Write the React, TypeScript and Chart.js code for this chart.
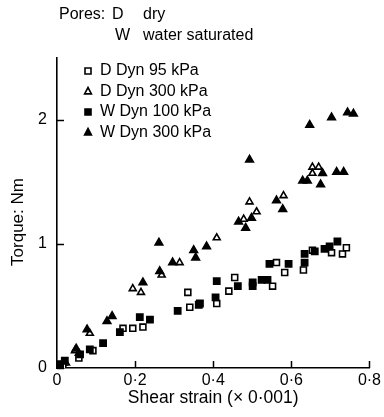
import React, { useEffect, useRef } from "react";
import { Chart, registerables } from "chart.js";

Chart.register(...registerables);

const xTickValues = [0, 0.2, 0.4, 0.6, 0.8];
const xTickLabels = ["0", "0·2", "0·4", "0·6", "0·8"];
const yTickValues = [0, 1, 2];
const yTickLabels = ["0", "1", "2"];

const seriesNames = ["D Dyn 95 kPa", "D Dyn 300 kPa", "W Dyn 100 kPa", "W Dyn 300 kPa"];

// D Dyn 95 kPa (hollow squares)
const dDyn95X = [0.015, 0.056, 0.092, 0.169, 0.194, 0.22, 0.34, 0.335, 0.409, 0.44, 0.455, 0.552, 0.562, 0.583, 0.631, 0.654, 0.703, 0.731, 0.741];
const dDyn95Y = [0.01, 0.08, 0.14, 0.32, 0.32, 0.33, 0.49, 0.61, 0.52, 0.62, 0.73, 0.66, 0.85, 0.77, 0.79, 0.95, 0.93, 0.92, 0.97];

// D Dyn 300 kPa (hollow triangles)
const dDyn300X = [0.023, 0.046, 0.056, 0.084, 0.194, 0.215, 0.268, 0.314, 0.409, 0.478, 0.493, 0.511, 0.58, 0.654, 0.67, 0.654];
const dDyn300Y = [0.04, 0.14, 0.12, 0.28, 0.64, 0.61, 0.75, 0.85, 1.05, 1.2, 1.34, 1.26, 1.39, 1.62, 1.62, 1.57];

// W Dyn 100 kPa (filled squares)
const wDyn100X = [0.008, 0.02, 0.059, 0.084, 0.118, 0.161, 0.212, 0.238, 0.309, 0.363, 0.409, 0.406, 0.366, 0.463, 0.501, 0.501, 0.524, 0.539, 0.544, 0.593, 0.634, 0.634, 0.66, 0.685, 0.718, 0.698];
const wDyn100Y = [0.03, 0.06, 0.11, 0.15, 0.2, 0.29, 0.41, 0.39, 0.46, 0.51, 0.7, 0.57, 0.52, 0.66, 0.69, 0.66, 0.71, 0.71, 0.84, 0.84, 0.92, 0.85, 0.94, 0.96, 1.02, 0.98];

// W Dyn 300 kPa (filled triangles)
const wDyn300X = [0.015, 0.049, 0.077, 0.128, 0.141, 0.22, 0.261, 0.263, 0.296, 0.35, 0.355, 0.383, 0.465, 0.483, 0.498, 0.493, 0.562, 0.578, 0.629, 0.641, 0.68, 0.675, 0.716, 0.734, 0.647, 0.703, 0.744, 0.759];
const wDyn300Y = [0.04, 0.156, 0.31, 0.377, 0.418, 0.69, 1.01, 0.78, 0.85, 0.95, 0.89, 0.98, 1.18, 1.13, 1.21, 1.68, 1.35, 1.28, 1.51, 1.51, 1.57, 1.48, 1.58, 1.58, 1.96, 2.02, 2.06, 2.05];

const xTitle = "Shear strain (× 0·001)";
const yTitle = "Torque: Nm";

const FONT = "'Liberation Sans', Arial, Helvetica, sans-serif";

const toPoints = (xs: number[], ys: number[]) => xs.map((x, i) => ({ x, y: ys[i] }));

function markerPath(ctx: CanvasRenderingContext2D, kind: string, x: number, y: number) {
  ctx.beginPath();
  if (kind === "sq") {
    ctx.rect(x - 3, y - 3, 6, 6);
  } else {
    ctx.moveTo(x, y - 4);
    ctx.lineTo(x + 3.4, y + 2.4);
    ctx.lineTo(x - 3.4, y + 2.4);
    ctx.closePath();
  }
}

const overlayPlugin = {
  id: "overlay",
  afterDraw(chart: any) {
    const ctx: CanvasRenderingContext2D = chart.ctx;
    const xs = chart.scales.x;
    const ys = chart.scales.y;
    const area = chart.chartArea;
    ctx.save();
    ctx.strokeStyle = "#000";
    ctx.lineWidth = 1.5;
    // inward ticks
    xTickValues.forEach((v) => {
      const px = Math.round(xs.getPixelForValue(v)) + 0.5;
      ctx.beginPath();
      ctx.moveTo(px, area.bottom);
      ctx.lineTo(px, area.bottom - 7);
      ctx.stroke();
    });
    yTickValues.forEach((v) => {
      const py = Math.round(ys.getPixelForValue(v)) + 0.5;
      ctx.beginPath();
      ctx.moveTo(area.left, py);
      ctx.lineTo(area.left + 7, py);
      ctx.stroke();
    });
    ctx.fillStyle = "#000";
    ctx.textBaseline = "middle";
    // y title
    ctx.save();
    ctx.font = `17px ${FONT}`;
    ctx.textAlign = "center";
    ctx.translate(18, 222);
    ctx.rotate(-Math.PI / 2);
    ctx.fillText(yTitle, 0, 0);
    ctx.restore();
    // header text
    ctx.font = `16px ${FONT}`;
    ctx.textAlign = "left";
    ctx.fillText("Pores:", 59, 15);
    ctx.fillText("D", 112, 15);
    ctx.fillText("dry", 143, 15);
    ctx.fillText("W", 115, 36);
    ctx.fillText("water saturated", 143, 36);
    // legend
    const rows = [71, 91.5, 112, 132.5];
    const kinds = [
      { k: "sq", fill: false },
      { k: "tri", fill: false },
      { k: "sq", fill: true },
      { k: "tri", fill: true },
    ];
    rows.forEach((ry, i) => {
      ctx.lineWidth = 1.6;
      markerPath(ctx, kinds[i].k, 88, ry);
      ctx.fillStyle = kinds[i].fill ? "#000" : "#fff";
      ctx.fill();
      ctx.stroke();
      ctx.fillStyle = "#000";
      ctx.fillText(seriesNames[i], 100, ry);
    });
    ctx.restore();
  },
};

export default function App() {
  const ref = useRef<HTMLCanvasElement | null>(null);
  useEffect(() => {
    if (!ref.current) return;
    const common = { showLine: false, borderColor: "#000", borderWidth: 1.6 };
    const chart = new Chart(ref.current, {
      type: "scatter",
      data: {
        datasets: [
          { ...common, label: seriesNames[2], data: toPoints(wDyn100X, wDyn100Y), pointStyle: "rect", pointRadius: 4.4, backgroundColor: "#000" },
          { ...common, label: seriesNames[0], data: toPoints(dDyn95X, dDyn95Y), pointStyle: "rect", pointRadius: 4.2, backgroundColor: "#fff" },
          { ...common, label: seriesNames[3], data: toPoints(wDyn300X, wDyn300Y), pointStyle: "triangle", pointRadius: 4.4, backgroundColor: "#000" },
          { ...common, label: seriesNames[1], data: toPoints(dDyn300X, dDyn300Y), pointStyle: "triangle", pointRadius: 4, backgroundColor: "#fff" },
        ],
      },
      options: {
        responsive: false,
        animation: false,
        layout: { padding: { left: 0, right: 14, top: 58, bottom: 0 } },
        plugins: { legend: { display: false }, tooltip: { enabled: false } },
        scales: {
          x: {
            type: "linear",
            min: 0,
            max: 0.8,
            afterBuildTicks: (s: any) => { s.ticks = xTickValues.map((v) => ({ value: v })); },
            afterFit: (s: any) => { s.height = 49; },
            ticks: {
              color: "#000",
              font: { family: FONT, size: 16 },
              padding: 3,
              maxRotation: 0,
              autoSkip: false,
              callback: (v: any) => xTickLabels[xTickValues.indexOf(Number(v))] ?? "",
            },
            grid: { display: true, drawOnChartArea: false, drawTicks: false },
            border: { display: true, color: "#000", width: 1.6 },
            title: { display: true, text: xTitle, color: "#000", font: { family: FONT, size: 17.5 }, padding: { top: 0, bottom: 8 } },
          },
          y: {
            type: "linear",
            min: 0,
            max: 2.5,
            afterBuildTicks: (s: any) => { s.ticks = yTickValues.map((v) => ({ value: v })); },
            afterFit: (s: any) => { s.width = 57; },
            ticks: {
              color: "#000",
              font: { family: FONT, size: 16 },
              padding: 10,
              autoSkip: false,
              callback: (v: any) => yTickLabels[yTickValues.indexOf(Number(v))] ?? "",
            },
            grid: { display: true, drawOnChartArea: false, drawTicks: false },
            border: { display: true, color: "#000", width: 1.6 },
            title: { display: false, text: yTitle },
          },
        },
      },
      plugins: [overlayPlugin],
    } as any);
    return () => chart.destroy();
  }, []);
  return (
    <div style={{ position: "absolute", left: 0, top: 0, width: 384, height: 417, background: "#fff" }}>
      <canvas ref={ref} width={384} height={417} style={{ display: "block", width: 384, height: 417 }} />
    </div>
  );
}
